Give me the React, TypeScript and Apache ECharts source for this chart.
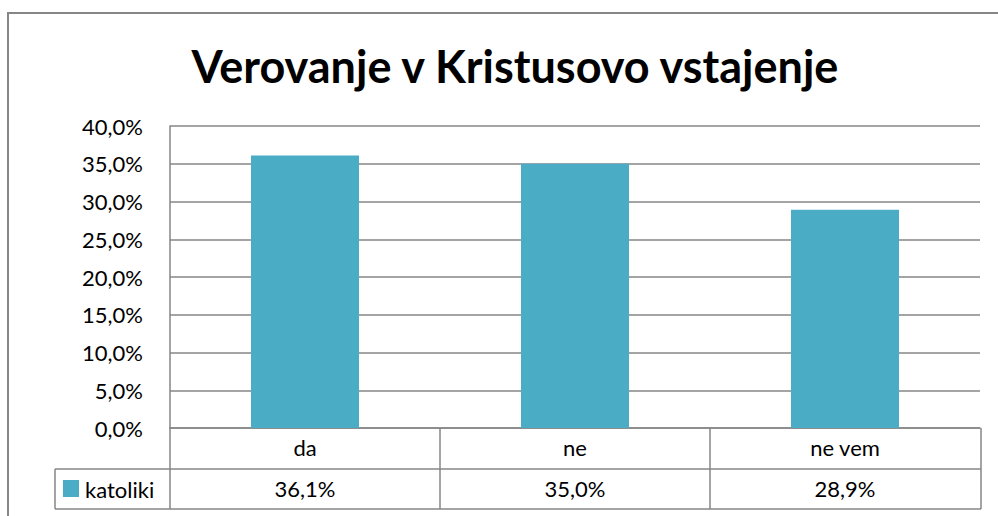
import React, { useEffect, useRef } from "react";
import * as echarts from "echarts";

const title = "Verovanje v Kristusovo vstajenje";
const categories = ["da", "ne", "ne vem"];
const seriesName = "katoliki";
const values = [36.1, 35.0, 28.9];
const yTicks = [0, 5, 10, 15, 20, 25, 30, 35, 40];

const fmt = (v: number) => v.toFixed(1).replace(".", ",") + "%";

const FONT = "Lato, 'Open Sans', sans-serif";
const GRID = "#868686";
const BAR = "#4BACC6";
const FS = 22;

export default function App() {
  const ref = useRef<HTMLDivElement>(null);
  useEffect(() => {
    if (!ref.current) return;
    const chart = echarts.init(ref.current, null, { renderer: "svg" });
    const line = (x1: number, y1: number, x2: number, y2: number) => ({
      type: "line",
      shape: { x1, y1, x2, y2 },
      style: { stroke: GRID, lineWidth: 1.5 },
      silent: true,
    });
    chart.setOption({
      animation: false,
      backgroundColor: "#ffffff",
      title: {
        text: title,
        left: 510,
        textAlign: "center",
        top: 38,
        textStyle: { fontFamily: FONT, fontWeight: "bold", fontSize: 45, color: "#000" },
      },
      grid: { left: 170, right: 18, top: 126, bottom: 88, containLabel: false },
      xAxis: [
        {
          type: "category",
          data: categories,
          axisLine: { show: true, lineStyle: { color: GRID, width: 1.5 } },
          axisTick: { show: false },
          axisLabel: { margin: 8, fontFamily: FONT, fontSize: FS, color: "#000" },
        },
        {
          type: "category",
          position: "bottom",
          offset: 41,
          data: values.map(fmt),
          axisLine: { show: false },
          axisTick: { show: false },
          axisLabel: { margin: 8, fontFamily: FONT, fontSize: FS, color: "#000" },
        },
      ],
      yAxis: {
        type: "value",
        min: yTicks[0],
        max: yTicks[yTicks.length - 1],
        interval: 5,
        axisLine: { show: true, lineStyle: { color: GRID, width: 1.5 } },
        axisTick: { show: false },
        splitLine: { show: true, lineStyle: { color: GRID, width: 1.5 } },
        axisLabel: {
          margin: 27,
          fontFamily: FONT,
          fontSize: FS,
          color: "#000",
          formatter: (v: number) => fmt(v),
        },
      },
      series: [
        {
          name: seriesName,
          type: "bar",
          data: values,
          barWidth: "40%",
          itemStyle: { color: BAR },
        },
      ],
      graphic: [
        {
          type: "rect",
          shape: { x: 8, y: 13, width: 995, height: 510 },
          style: { fill: "none", stroke: GRID, lineWidth: 2 },
          silent: true,
        },
        line(170, 428, 170, 509),
        line(440, 428, 440, 509),
        line(710, 428, 710, 509),
        line(981, 428, 981, 509),
        line(55, 469, 981, 469),
        line(55, 509, 981, 509),
        line(55, 469, 55, 509),
        {
          type: "rect",
          shape: { x: 63, y: 480, width: 16, height: 17 },
          style: { fill: BAR },
          silent: true,
        },
        {
          type: "text",
          x: 85,
          y: 489,
          style: {
            text: seriesName,
            fontFamily: FONT,
            fontSize: FS,
            fill: "#000",
            verticalAlign: "middle",
            align: "left",
          },
          silent: true,
        },
      ],
    });
    return () => chart.dispose();
  }, []);
  return (
    <div
      ref={ref}
      style={{ position: "fixed", left: 0, top: 0, width: 998, height: 516 }}
    />
  );
}
